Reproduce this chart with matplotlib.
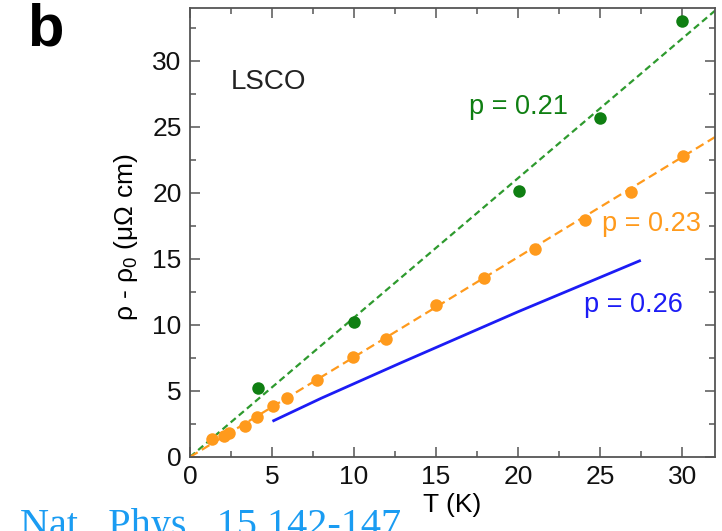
import numpy as np
import matplotlib
matplotlib.use("Agg")
import matplotlib.pyplot as plt
from matplotlib.ticker import MultipleLocator

plt.rcParams['font.family'] = ['Liberation Sans', 'DejaVu Sans']
plt.rcParams['mathtext.fontset'] = 'custom'
plt.rcParams['mathtext.rm'] = 'Liberation Sans'
plt.rcParams['mathtext.it'] = 'Liberation Sans'

# p = 0.21 (green points)
t_21 = [4.15, 10.0, 20.05, 25.0, 30.0]
rho_21 = [5.25, 10.2, 20.15, 25.7, 33.05]
slope_21 = 1.056

# p = 0.23 (orange points)
t_23 = [1.36, 2.07, 2.4, 3.35, 4.06, 5.07, 5.92, 7.77, 9.94,
        11.97, 15.0, 17.9, 21.0, 24.1, 26.9, 30.05]
rho_23 = [1.34, 1.59, 1.84, 2.37, 3.0, 3.88, 4.46, 5.82, 7.54,
          8.97, 11.54, 13.55, 15.77, 17.96, 20.1, 22.8]
slope_23 = 0.757

# p = 0.26 (blue curve)
t_26 = [5.1, 8.0, 12.8, 20.0, 27.4]
rho_26 = [2.75, 4.45, 7.1, 11.0, 14.85]

green = '#0f7f12'
green_line = '#2e9a2e'
orange = '#ff9a1c'
blue = '#1c1cf5'
axis_col = '#555555'

fig = plt.figure(figsize=(7.22, 5.31), dpi=100)
ax = fig.add_axes([0.2632, 0.1394, 0.7271, 0.8456])

line_t = np.array([0, 32])
ax.plot(line_t, slope_21 * line_t, '--', color=green_line, lw=1.6, dashes=(3, 1.8))
ax.plot(line_t, slope_23 * line_t, '--', color=orange, lw=1.6, dashes=(4, 2.2))
ax.plot(t_26, rho_26, '-', color=blue, lw=2.0)
ax.plot(t_23, rho_23, 'o', color=orange, ms=9, mec='none')
ax.plot(t_21, rho_21, 'o', color=green, ms=9, mec='none')

ax.set_xlim(0, 32)
ax.set_ylim(0, 34)
ax.xaxis.set_major_locator(MultipleLocator(5))
ax.xaxis.set_minor_locator(MultipleLocator(2.5))
ax.yaxis.set_major_locator(MultipleLocator(5))
ax.yaxis.set_minor_locator(MultipleLocator(2.5))
ax.tick_params(which='both', direction='in', top=True, right=True,
               color=axis_col, width=1.1, labelsize=19, labelcolor='#111111')
ax.tick_params(which='major', length=7, pad=6)
ax.tick_params(which='minor', length=4)
for s in ax.spines.values():
    s.set_color(axis_col)
    s.set_linewidth(1.3)

ax.set_xlabel('T (K)', fontsize=19, labelpad=3)
ax.set_ylabel(r'ρ - ρ$_0$ (μΩ cm)', fontsize=19)
ax.yaxis.set_label_coords(-0.095, 0.49)

ax.text(2.5, 27.9, 'LSCO', fontsize=20, color='#222222')
ax.text(17.0, 26.0, 'p = 0.21', fontsize=19.5, color=green)
ax.text(25.1, 17.1, 'p = 0.23', fontsize=19.5, color=orange)
ax.text(24.0, 11.0, 'p = 0.26', fontsize=19.5, color=blue)

fig.text(0.037, 0.995, 'b', fontsize=43, fontweight='bold', va='top', ha='left')
fig.text(0.028, -0.009, 'Nat.  Phys.  15,142-147', fontsize=29,
         family='Liberation Serif', color='#1a9cf2', va='baseline')

fig.savefig('out.png', dpi=100)
